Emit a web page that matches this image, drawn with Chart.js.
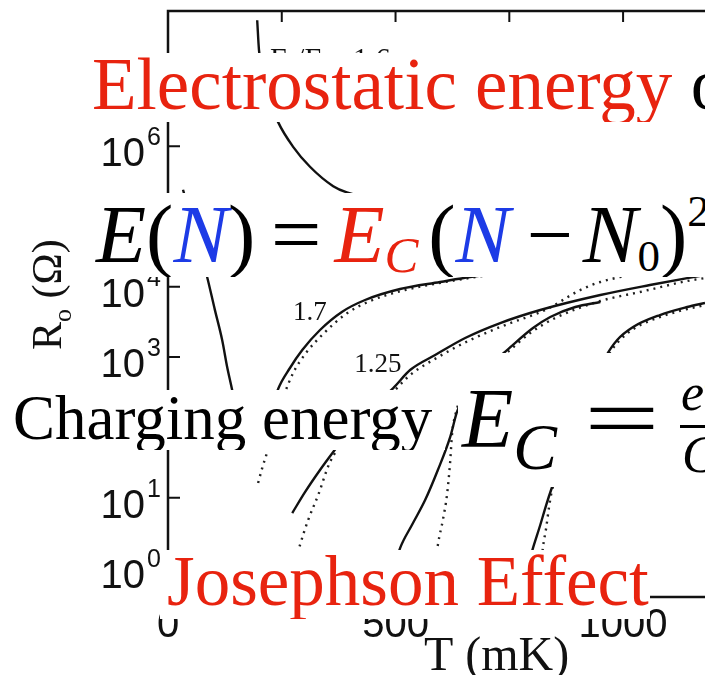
<!DOCTYPE html>
<html>
<head>
<meta charset="utf-8">
<script src="https://cdn.jsdelivr.net/npm/chart.js@4.4.1/dist/chart.umd.min.js"></script>
<style>
  html, body { margin: 0; padding: 0; background: #fff; overflow: hidden; }
  #wrap { position: relative; width: 705px; height: 675px; overflow: hidden; }
  #plot { position: absolute; left: 0; top: 0; filter: blur(0.45px); }
  .box { position: absolute; background: #fff; overflow: hidden; white-space: nowrap;
         font-family: "Liberation Serif", "Times New Roman", serif; line-height: 1; color: #000; }
  .box .t { position: absolute; white-space: nowrap; }
  .red { color: #e8230f; }
  .blue { color: #1d3be6; }
  i { font-style: italic; }
  sub, sup { line-height: 0; }
  #b2 sub { font-size: 0.62em; vertical-align: -0.2em; }
  #b2 sub.n { font-size: 0.55em; }
  #b2 sup { font-size: 0.55em; vertical-align: 0.8em; }
  .op { display: inline-block; margin: 0 0.18em 0 0.22em; transform: scaleX(1.1); }
  .op2 { display: inline-block; margin: 0 0.12em 0 0.2em; }
  .gap { display: inline-block; width: 0.12em; }
</style>
</head>
<body>
<div id="wrap">
  <canvas id="plot" width="705" height="675"></canvas>

  <div class="box" id="b1" style="left:88px;top:53px;width:640px;height:69px">
    <div class="t" style="left:4px;top:-5px;font-size:73px"><span class="red">Electrostatic energy</span> of the island</div>
  </div>

  <div class="box" id="b2" style="left:90px;top:193px;width:640px;height:84px">
    <div class="t" style="left:6px;top:0.5px;font-size:82px"><i>E</i>(<i class="blue">N</i>)<span class="op">=</span><i class="red">E<sub>C</sub></i><span class="gap"></span>(<i class="blue">N</i><span class="op2">−</span><i>N</i><sub class="n">0</sub>)<sup>2</sup></div>
  </div>

  <div class="box" id="b3" style="left:0px;top:390px;width:445px;height:60px">
    <div class="t" style="left:13px;top:-3.5px;font-size:63px">Charging energy</div>
  </div>

  <div class="box" id="b4" style="left:458px;top:353px;width:260px;height:134px">
    <div class="t" style="left:4px;top:23.6px;font-size:84px"><i>E</i><sub style="font-size:0.78em;vertical-align:-0.34em"><i>C</i></sub></div>
    <div class="t" style="left:126px;top:23.6px;font-size:84px;transform:scaleX(1.6);transform-origin:left">=</div>
    <div class="t" style="left:223px;top:13.5px;font-size:52px"><i>e</i><sup style="font-size:0.6em;vertical-align:0.7em">2</sup></div>
    <div style="position:absolute;left:222px;top:72px;width:60px;height:3px;background:#000"></div>
    <div class="t" style="left:224px;top:75.5px;font-size:52px"><i>C</i></div>
  </div>

  <div class="box" id="b5" style="left:160px;top:550px;width:490px;height:69px">
    <div class="t" style="left:7px;top:-4.5px;font-size:71px"><span class="red">Josephson Effect</span></div>
  </div>
</div>

<script>
// R0(T) curves, temperature in mK and resistance in ohms
// insulating branch (top left)
const tempA = [196, 200, 215, 242, 275, 312, 363, 393, 510, 620, 840, 1180];
const resA = [6.2e7, 2.3e7, 6.3e6, 2.2e6, 9.8e5, 5.1e5, 2.7e5, 2.2e5, 1.46e5, 8.9e4, 5.5e4, 3.9e4];

// steep branch near the axis
const tempB = [33, 59, 86, 103, 119, 130, 141, 158];
const resB = [2.4e5, 6.0e4, 1.38e4, 4.7e3, 1.75e3, 723, 340, 92];

// EJ/EC = 1.7 : measured and calculated
const temp17 = [207, 224, 242, 268, 295, 334, 382, 433, 510, 598, 664, 840, 1059, 1180];
const res17 = [66, 150, 352, 700, 1260, 2430, 4390, 6490, 9300, 11700, 13800, 18500, 22500, 25100];
const temp17Fit = [198, 207, 218, 229, 242, 255, 275, 303, 343, 391, 444, 521, 609, 730, 950, 1180];
const res17Fit = [16.2, 26.4, 44.7, 83.2, 160, 289, 594, 1140, 2200, 4100, 6280, 9000, 11700, 15200, 18500, 20400];

// EJ/EC = 1.25
const temp125 = [273, 301, 334, 363, 400, 444, 495, 532, 587, 653, 730, 818, 950, 1059, 1141, 1180];
const res125 = [6.05, 12.0, 24.8, 44.7, 91.8, 189, 363, 655, 1070, 1870, 3050, 4680, 7640, 10600, 13300, 14700];
const temp125Fit = [281, 290, 308, 330, 356, 389, 433, 488, 532, 598, 664, 741, 829, 906, 950, 1059, 1180];
const res125Fit = [1.30, 2.12, 4.82, 10.9, 32.2, 66.2, 145, 289, 556, 1040, 1750, 2860, 4680, 9000, 11700, 16300, 19800];

// third pair
const temp3 = [492, 510, 536, 565, 593, 620, 635, 655, 681, 712, 745, 802, 840, 895, 950];
const res3 = [0.8, 1.92, 4.09, 9.27, 24.8, 72.9, 166, 319, 538, 824, 1260, 2590, 3720, 5160, 6080];
const temp3Fit = [589, 593, 604, 613, 620, 624, 633, 653, 679, 710, 743, 796, 851, 950, 1037, 1141, 1180];
const res3Fit = [1.30, 2.12, 4.82, 10.9, 32.2, 78, 166, 319, 538, 798, 1140, 2200, 3600, 6280, 8430, 12100, 13300];

// fourth pair
const temp4 = [785, 802, 818, 831, 844, 864, 886, 910, 934, 960, 987, 1022, 1081, 1141, 1180];
const res4 = [0.8, 1.92, 4.09, 7.87, 14.2, 32.2, 78, 189, 429, 971, 1750, 2680, 3970, 5160, 5890];
const temp4Fit = [820, 824, 831, 837, 844, 862, 884, 908, 932, 958, 989, 1026, 1081, 1141, 1180];
const res4Fit = [1.10, 1.99, 3.71, 7.13, 12.9, 26.4, 66.2, 166, 376, 851, 1640, 2590, 3720, 4830, 5510];

// axes
const xTicks = [250, 500, 750, 1000];
const xTickLabels = ['0', '500', '1000'];
const xLabelValues = [0, 500, 1000];
const yExponents = [0, 1, 2, 3, 4, 5, 6, 7];

const pts = (t, r) => t.map((v, i) => ({ x: v, y: r[i] }));

function solid(t, r) {
  return { data: pts(t, r), borderColor: '#111', borderWidth: 2.4, pointRadius: 0,
           cubicInterpolationMode: 'monotone' };
}
function dotted(t, r) {
  return { data: pts(t, r), borderColor: '#222', borderWidth: 2.4, borderDash: [2, 5],
           pointRadius: 0, cubicInterpolationMode: 'monotone' };
}

// draws runs of text with size / baseline offset, left to right
function runs(ctx, x, y, parts) {
  for (const p of parts) {
    ctx.font = (p.italic ? 'italic ' : '') + p.size + 'px "Liberation Serif"';
    ctx.fillText(p.text, x, y + (p.dy || 0));
    x += ctx.measureText(p.text).width;
  }
}

const frame = {
  id: 'frame',
  afterDatasetsDraw(chart) {
    const { ctx, chartArea: a, scales: { x, y } } = chart;
    ctx.save();
    ctx.strokeStyle = '#111';
    ctx.fillStyle = '#111';
    ctx.lineWidth = 2.5;
    ctx.beginPath();
    ctx.moveTo(a.right + 5, a.top);
    ctx.lineTo(a.left, a.top);
    ctx.lineTo(a.left, a.bottom);
    ctx.lineTo(a.right + 5, a.bottom);
    ctx.stroke();

    // ticks point inward
    ctx.lineWidth = 2;
    ctx.beginPath();
    for (const v of xTicks) {
      const px = x.getPixelForValue(v);
      ctx.moveTo(px, a.top); ctx.lineTo(px, a.top + 11);
      ctx.moveTo(px, a.bottom); ctx.lineTo(px, a.bottom - 11);
    }
    for (const e of yExponents) {
      const py = y.getPixelForValue(Math.pow(10, e));
      ctx.moveTo(a.left, py); ctx.lineTo(a.left + 12, py);
    }
    ctx.stroke();

    // tick labels
    ctx.textBaseline = 'alphabetic';
    for (const e of yExponents) {
      const py = y.getPixelForValue(Math.pow(10, e));
      ctx.textAlign = 'right';
      ctx.font = '40px "Liberation Sans"';
      ctx.fillText('10', a.left - 23, py + 20);
      ctx.textAlign = 'left';
      ctx.font = '25px "Liberation Sans"';
      ctx.fillText(String(e), a.left - 21, py - 1);
    }
    ctx.textAlign = 'center';
    ctx.font = '40px "Liberation Sans"';
    xLabelValues.forEach((v, i) => {
      ctx.fillText(xTickLabels[i], x.getPixelForValue(v), a.bottom + 40);
    });

    // axis titles
    ctx.font = '48px "Liberation Serif"';
    ctx.fillText('T (mK)', x.getPixelForValue(722), a.bottom + 73);

    ctx.save();
    ctx.translate(61, 350);
    ctx.rotate(-Math.PI / 2);
    ctx.textAlign = 'left';
    runs(ctx, 0, 0, [
      { text: 'R', size: 42 },
      { text: 'o', size: 26, dy: 10 },
      { text: ' (\u03A9)', size: 42 }
    ]);
    ctx.restore();

    // curve labels
    ctx.textAlign = 'center';
    ctx.textBaseline = 'middle';
    ctx.font = '27px "Liberation Serif"';
    ctx.fillText('1.7', x.getPixelForValue(312), y.getPixelForValue(4240));
    ctx.fillText('1.25', x.getPixelForValue(461), y.getPixelForValue(773));
    ctx.textAlign = 'left';
    ctx.textBaseline = 'alphabetic';
    runs(ctx, x.getPixelForValue(224), y.getPixelForValue(1.3e7), [
      { text: 'E', size: 30 }, { text: 'J', size: 20, dy: 6 },
      { text: '/E', size: 30 }, { text: 'C', size: 20, dy: 6 },
      { text: '=1.6', size: 30 }
    ]);
    ctx.restore();
  }
};

new Chart(document.getElementById('plot'), {
  type: 'scatter',
  data: {
    datasets: [
      solid(tempA, resA),
      solid(tempB, resB),
      solid(temp17, res17), dotted(temp17Fit, res17Fit),
      solid(temp125, res125), dotted(temp125Fit, res125Fit),
      solid(temp3, res3), dotted(temp3Fit, res3Fit),
      solid(temp4, res4), dotted(temp4Fit, res4Fit)
    ].map(d => ({ ...d, showLine: true }))
  },
  options: {
    responsive: false,
    animation: false,
    devicePixelRatio: 1,
    layout: { padding: { left: 168, top: 11, right: 0, bottom: 78 } },
    plugins: { legend: { display: false }, tooltip: { enabled: false } },
    scales: {
      x: { type: 'linear', min: 0, max: 1180, display: false },
      y: { type: 'logarithmic', min: 0.387, max: 8.38e7, display: false }
    }
  },
  plugins: [frame]
});
</script>
</body>
</html>
